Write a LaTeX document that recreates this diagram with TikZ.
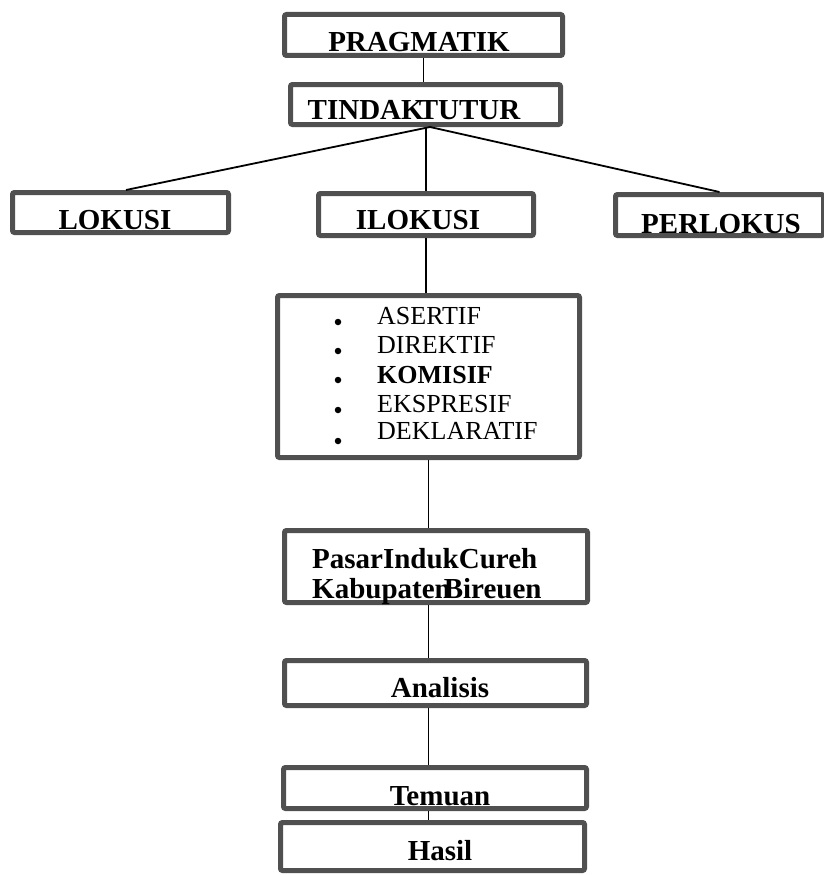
\documentclass[tikz,border=0pt]{standalone}
\usepackage{fontspec}
\setmainfont{Liberation Serif}
\definecolor{boxgray}{HTML}{505050}
\begin{document}
\begin{tikzpicture}[x=1pt,y=-1pt,
  box/.style={draw=boxgray,line width=5pt,rounded corners=2pt,fill=white,inner sep=0pt},
  btxt/.style={anchor=base,inner sep=0pt,font=\fontsize{29}{31}\selectfont\bfseries},
  ltxt/.style={anchor=base west,inner sep=0pt,font=\fontsize{26}{28}\selectfont},
  conn/.style={draw=black,line width=1.8pt},
  dot/.style={circle,fill=black,inner sep=0pt,minimum size=6.5pt}]
\useasboundingbox (0,0) rectangle (823,875);
% boxes
\node[box,minimum width=278pt,minimum height=41pt] (prag) at (423.5,35) {};
\node[box,minimum width=270pt,minimum height=40pt] (tind) at (425.5,104.5) {};
\node[box,minimum width=216pt,minimum height=40pt] (lok) at (120.5,212.5) {};
\node[box,minimum width=215pt,minimum height=42pt] (ilok) at (426,214.5) {};
\node[box,minimum width=208pt,minimum height=41pt] (perl) at (719.5,215) {};
\node[box,minimum width=302pt,minimum height=162pt] (list) at (428.5,376.5) {};
\node[box,minimum width=303pt,minimum height=72pt] (pasar) at (436,566.5) {};
\node[box,minimum width=302pt,minimum height=45pt] (anal) at (435.5,683) {};
\node[box,minimum width=303pt,minimum height=41pt] (tem) at (435,788) {};
\node[box,minimum width=304pt,minimum height=48pt] (has) at (432.5,846.5) {};
% texts
\node[btxt] (tprag) at (419,52) {PRAGMATIK};
\node[btxt] (ttind) at (414,119) {TINDAK\kern-5pt TUTUR};
\node[btxt] (tlok) at (115,229) {LOKUSI};
\node[btxt] (tilok) at (418,229) {ILOKUSI};
\node[btxt] (tperl) at (721,233) {PERLOKUS};
\node[btxt,anchor=base west] (tpas1) at (312,568) {PasarIndukCureh};
\node[btxt,anchor=base west] (tpas2) at (312,598) {Kabupaten\kern-7pt Bireuen};
\node[btxt] (tanal) at (440,697) {Analisis};
\node[btxt] (ttem) at (440,805) {Temuan};
\node[btxt] (thas) at (440,860) {Hasil};
% list
\node[dot] (d1) at (338,322) {};
\node[dot] (d2) at (338,351) {};
\node[dot] (d3) at (338,380) {};
\node[dot] (d4) at (338,410) {};
\node[dot] (d5) at (338,441) {};
\node[ltxt] (l1) at (377,324) {ASERTIF};
\node[ltxt] (l2) at (377,353) {DIREKTIF};
\node[ltxt,font=\fontsize{26}{28}\selectfont\bfseries] (l3) at (377,383) {KOMISIF};
\node[ltxt] (l4) at (377,412) {EKSPRESIF};
\node[ltxt] (l5) at (377,439) {DEKLARATIF};
% connectors
\draw[conn] (prag.south) -- (prag.south |- tind.north);
\draw[conn] ([xshift=4.5pt]tind.south) -- ([xshift=5.5pt]lok.north);
\draw[conn] ([xshift=4.5pt]tind.south) -- (perl.north);
\draw[conn] (ilok.north |- tind.south) -- (ilok.north);
\draw[conn] (ilok.south) -- (ilok.south |- list.north);
\draw[conn] (list.south) -- (list.south |- pasar.north);
\draw[conn] (list.south |- pasar.south) -- (list.south |- anal.north);
\draw[conn] (list.south |- anal.south) -- (list.south |- tem.north);
\draw[conn] (list.south |- tem.south) -- (list.south |- has.north);
\end{tikzpicture}
\end{document}
